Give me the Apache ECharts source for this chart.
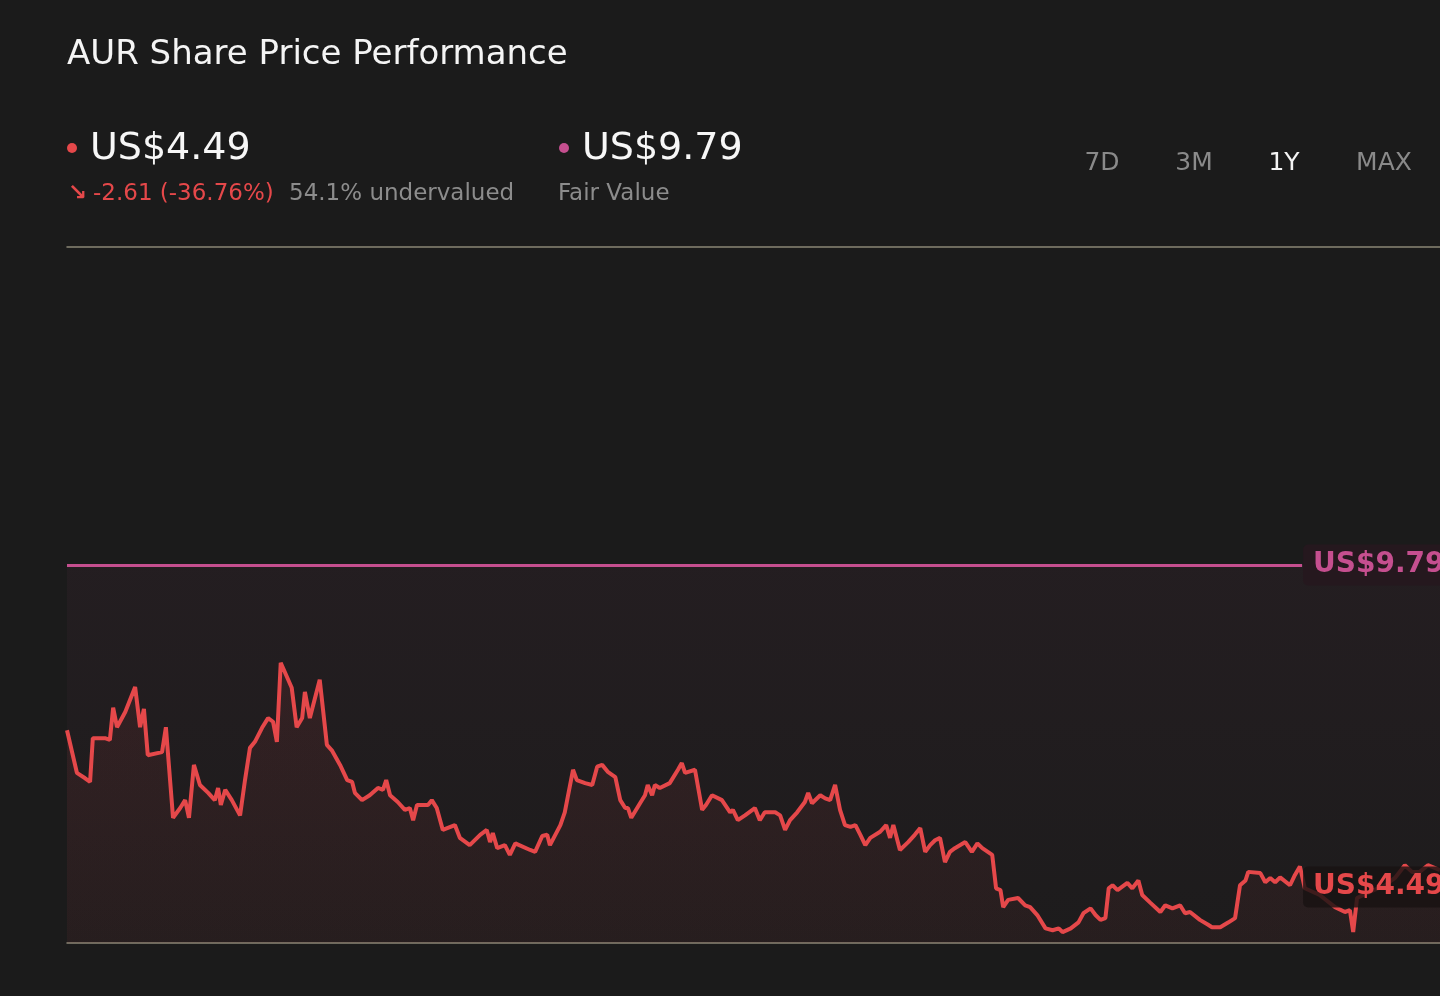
<!DOCTYPE html>
<html lang="en">
<head>
    <meta charset="UTF-8">
    <title>AUR Share Price Performance</title>
    <style>
        html, body {
            margin: 0;
            padding: 0;
            background: #1b1b1b;
        }
        #main {
            width: 1440px;
            height: 996px;
        }
    </style>
</head>
<body>
<div id="main"></div>

<script src="https://cdn.jsdelivr.net/npm/echarts@6/dist/echarts.min.js"></script>
<script>
    // 交易日序号（一年约 250 个交易日）
    var days = [
        0, 1.8, 3.3, 4.2, 4.7, 6.9, 7.8, 8.4, 9.1, 10.6, 12.4, 13.3, 14.0, 14.7, 17.3, 18.0,
        19.3, 20.6, 21.5, 22.2, 23.1, 24.2, 25.7, 26.9, 27.5, 28.0, 28.8, 30.0, 31.5, 32.4,
        33.3, 34.2, 35.5, 36.6, 37.5, 38.2, 38.9, 40.9, 41.8, 42.8, 43.3, 44.2, 46.0, 47.3,
        48.2, 49.7, 51.0, 51.9, 52.4, 53.7, 55.1, 56.6, 57.5, 58.1, 58.8, 60.2, 61.5, 62.4,
        63.0, 63.7, 65.7, 66.4, 67.3, 68.4, 70.6, 71.5, 73.3, 75.2, 76.4, 77.0, 77.5, 78.3,
        79.7, 80.6, 81.6, 84.3, 85.2, 86.5, 87.4, 87.9, 89.8, 90.6, 92.1, 92.8, 94.3, 95.6,
        96.5, 97.4, 98.5, 99.8, 100.7, 101.6, 102.1, 102.7, 104.3, 105.2, 105.7, 106.5, 107.0,
        107.9, 109.7, 111.2, 111.9, 112.5, 114.3, 115.6, 116.3, 117.4, 119.2, 120.7, 121.2,
        122.1, 123.4, 125.2, 126.1, 127.0, 128.9, 129.8, 130.7, 131.6, 132.9, 134.3, 134.9,
        135.6, 137.1, 138.0, 138.9, 139.8, 140.7, 141.6, 142.6, 143.5, 144.4, 145.3, 146.2,
        148.0, 149.1, 149.8, 150.4, 151.6, 153.1, 154.3, 155.3, 156.2, 157.1, 158.0, 158.9,
        159.8, 160.7, 161.6, 163.5, 164.7, 165.7, 166.6, 168.4, 169.1, 169.9, 170.4, 171.3,
        173.1, 174.4, 175.3, 176.6, 178.1, 179.4, 180.5, 181.2, 182.7, 184.1, 185.0, 186.3,
        187.2, 188.1, 189.0, 189.6, 190.3, 191.2, 193.0, 193.9, 195.0, 195.7, 197.2, 199.0,
        199.9, 201.2, 202.6, 203.5, 204.4, 206.2, 207.7, 208.4, 209.9, 211.4, 212.6, 213.5,
        214.5, 215.0, 217.2, 218.1, 219.0, 219.9, 220.8, 222.6, 223.5, 224.4, 225.3, 228.0,
        230.8, 232.6, 233.5, 234.1, 234.8, 237.1, 239.9, 241.7, 243.5, 244.8, 246.2, 247.7, 249.9
    ];

    // 收盘价 (US$)
    var prices = [
        7.07, 6.37, 6.28, 6.22, 6.94, 6.94, 6.91, 7.44, 7.12, 7.37, 7.78, 7.12, 7.42, 6.66, 6.71, 7.12,
        5.63, 5.79, 5.92, 5.63, 6.50, 6.17, 6.04, 5.92, 6.12, 5.84, 6.09, 5.92, 5.67, 6.25,
        6.78, 6.88, 7.11, 7.27, 7.21, 6.88, 8.18, 7.77, 7.12, 7.27, 7.70, 7.27, 7.90, 6.83,
        6.74, 6.50, 6.25, 6.22, 6.04, 5.92, 6.00, 6.12, 6.09, 6.25, 6.00, 5.89, 5.76, 5.79,
        5.59, 5.84, 5.84, 5.92, 5.79, 5.43, 5.51, 5.30, 5.18, 5.35, 5.43, 5.23, 5.38, 5.13,
        5.18, 5.02, 5.21, 5.10, 5.07, 5.33, 5.35, 5.18, 5.51, 5.72, 6.42, 6.25, 6.20, 6.17,
        6.47, 6.50, 6.38, 6.30, 5.92, 5.79, 5.79, 5.63, 5.87, 6.00, 6.17, 6.00, 6.17,
        6.12, 6.20, 6.42, 6.53, 6.37, 6.42, 5.76, 5.84, 6.00, 5.92, 5.72, 5.76,
        5.59, 5.67, 5.79, 5.59, 5.72, 5.72, 5.67, 5.43, 5.59, 5.72, 5.89, 6.04,
        5.87, 6.00, 5.95, 5.92, 6.17, 5.76, 5.51, 5.48, 5.51, 5.35, 5.18, 5.30,
        5.40, 5.51, 5.30, 5.51, 5.10, 5.23, 5.35, 5.46, 5.07, 5.18, 5.26, 5.30,
        4.90, 5.07, 5.13, 5.23, 5.07, 5.21, 5.13, 5.02, 4.47, 4.44, 4.16, 4.28,
        4.31, 4.19, 4.16, 4.03, 3.81, 3.78, 3.81, 3.75, 3.81, 3.91, 4.06, 4.14,
        4.03, 3.95, 3.98, 4.47, 4.52, 4.44, 4.56, 4.47, 4.60, 4.36, 4.23, 4.08,
        4.19, 4.14, 4.19, 4.06, 4.08, 3.95, 3.87, 3.83, 3.83, 3.91, 3.98, 4.52,
        4.60, 4.74, 4.72, 4.57, 4.64, 4.57, 4.65, 4.52, 4.69, 4.83, 4.47, 4.36,
        4.16, 4.08, 4.11, 3.75, 4.31, 4.41, 4.52, 4.64, 4.85, 4.74, 4.74, 4.85, 4.77
    ];

    var lastPrice = 4.49;
    var fairValue = 9.79;
    var ranges = ['7D', '3M', '1Y', 'MAX'];
    var activeRange = '1Y';

    var red = '#e5484a';
    var pink = '#c54f8f';
    var font = 'DejaVu Sans';
    var yMin = 3.57;
    var yMax = 15.02;
    var labelEnd = 224.8; // 价格标签开始的位置（交易日）

    var seriesData = [];
    for (var i = 0; i < days.length; i++) {
        seriesData.push([days[i], prices[i]]);
    }

    // 右上角时间范围按钮
    var rangeX = [1102, 1194, 1284, 1384];
    var rangeTexts = [];
    for (var j = 0; j < ranges.length; j++) {
        rangeTexts.push({
            type: 'text',
            x: rangeX[j],
            y: 163,
            style: {
                text: ranges[j],
                fill: ranges[j] === activeRange ? '#f4f4f4' : '#8a8a8a',
                font: '25px "' + font + '"',
                align: 'center',
                verticalAlign: 'middle'
            }
        });
    }

    function priceLabel(text, color, bg) {
        return {
            show: true,
            position: 'end',
            distance: 1,
            formatter: text,
            color: color,
            fontFamily: font,
            fontWeight: 'bold',
            fontSize: 28,
            lineHeight: 28,
            backgroundColor: bg,
            borderRadius: 5,
            padding: [8, 10, 5, 10]
        };
    }

    var myChart = echarts.init(document.getElementById('main'));

    var option = {
        backgroundColor: '#1b1b1b',
        animation: false,
        grid: {
            left: 67,
            right: 0,
            top: 247,
            bottom: 53
        },
        xAxis: [
            {
                type: 'value',
                min: 0,
                max: 249.9,
                position: 'bottom',
                axisLine: { show: true, lineStyle: { color: '#8a8676', width: 1.5 } },
                axisTick: { show: false },
                axisLabel: { show: false },
                splitLine: { show: false }
            },
            {
                type: 'value',
                min: 0,
                max: 249.9,
                position: 'top',
                axisLine: { show: true, lineStyle: { color: '#8a8676', width: 1.5 } },
                axisTick: { show: false },
                axisLabel: { show: false },
                splitLine: { show: false }
            }
        ],
        yAxis: {
            type: 'value',
            min: yMin,
            max: yMax,
            axisLine: { show: false },
            axisTick: { show: false },
            axisLabel: { show: false },
            splitLine: { show: false }
        },
        graphic: [
            {
                type: 'text',
                x: 67,
                y: 55,
                style: {
                    text: 'AUR Share Price Performance',
                    fill: '#f4f4f4',
                    font: '34px "' + font + '"',
                    verticalAlign: 'middle'
                }
            },
            {
                type: 'circle',
                shape: { cx: 72, cy: 148, r: 5 },
                style: { fill: red }
            },
            {
                type: 'text',
                x: 90,
                y: 149,
                style: {
                    text: 'US$' + lastPrice.toFixed(2),
                    fill: '#f7f7f7',
                    font: '38px "' + font + '"',
                    verticalAlign: 'middle'
                }
            },
            {
                type: 'text',
                x: 68,
                y: 194,
                style: {
                    text: '\u2198',
                    fill: red,
                    font: 'bold 23px "' + font + '"',
                    verticalAlign: 'middle'
                }
            },
            {
                type: 'text',
                x: 93,
                y: 194,
                style: {
                    text: '-2.61 (-36.76%)',
                    fill: red,
                    font: '23px "' + font + '"',
                    verticalAlign: 'middle'
                }
            },
            {
                type: 'text',
                x: 289,
                y: 194,
                style: {
                    text: '54.1% undervalued',
                    fill: '#8c8c8c',
                    font: '23px "' + font + '"',
                    verticalAlign: 'middle'
                }
            },
            {
                type: 'circle',
                shape: { cx: 564, cy: 148, r: 5 },
                style: { fill: pink }
            },
            {
                type: 'text',
                x: 582,
                y: 149,
                style: {
                    text: 'US$' + fairValue.toFixed(2),
                    fill: '#f7f7f7',
                    font: '38px "' + font + '"',
                    verticalAlign: 'middle'
                }
            },
            {
                type: 'text',
                x: 558,
                y: 194,
                style: {
                    text: 'Fair Value',
                    fill: '#8c8c8c',
                    font: '23px "' + font + '"',
                    verticalAlign: 'middle'
                }
            }
        ].concat(rangeTexts),
        series: [
            {
                // 公允价值线 + 低估区域
                name: 'Fair Value',
                type: 'line',
                data: [],
                silent: true,
                markArea: {
                    silent: true,
                    itemStyle: {
                        color: new echarts.graphic.LinearGradient(0, 0, 0, 1, [
                            { offset: 0, color: 'rgba(200, 80, 140, 0.05)' },
                            { offset: 1, color: 'rgba(200, 80, 140, 0.01)' }
                        ])
                    },
                    data: [[{ yAxis: fairValue }, { yAxis: yMin }]]
                },
                markLine: {
                    silent: true,
                    symbol: 'none',
                    lineStyle: { color: pink, width: 3, type: 'solid' },
                    label: priceLabel('US$' + fairValue.toFixed(2), pink, 'rgba(38, 24, 31, 0.95)'),
                    data: [[{ coord: [0, fairValue] }, { coord: [labelEnd, fairValue] }]]
                }
            },
            {
                name: 'AUR',
                type: 'line',
                data: seriesData,
                symbol: 'none',
                lineStyle: { color: red, width: 4 },
                areaStyle: {
                    origin: 'start',
                    color: new echarts.graphic.LinearGradient(0, 0, 0, 1, [
                        { offset: 0, color: 'rgba(229, 72, 74, 0.13)' },
                        { offset: 1, color: 'rgba(229, 72, 74, 0.07)' }
                    ])
                },
                z: 3,
                markLine: {
                    silent: true,
                    symbol: 'none',
                    lineStyle: { color: 'rgba(0,0,0,0)', width: 0, type: 'solid' },
                    label: priceLabel('US$' + lastPrice.toFixed(2), red, 'rgba(24, 18, 18, 0.82)'),
                    data: [[{ coord: [0, lastPrice] }, { coord: [labelEnd, lastPrice] }]]
                }
            }
        ]
    };

    myChart.setOption(option);
</script>
</body>
</html>
